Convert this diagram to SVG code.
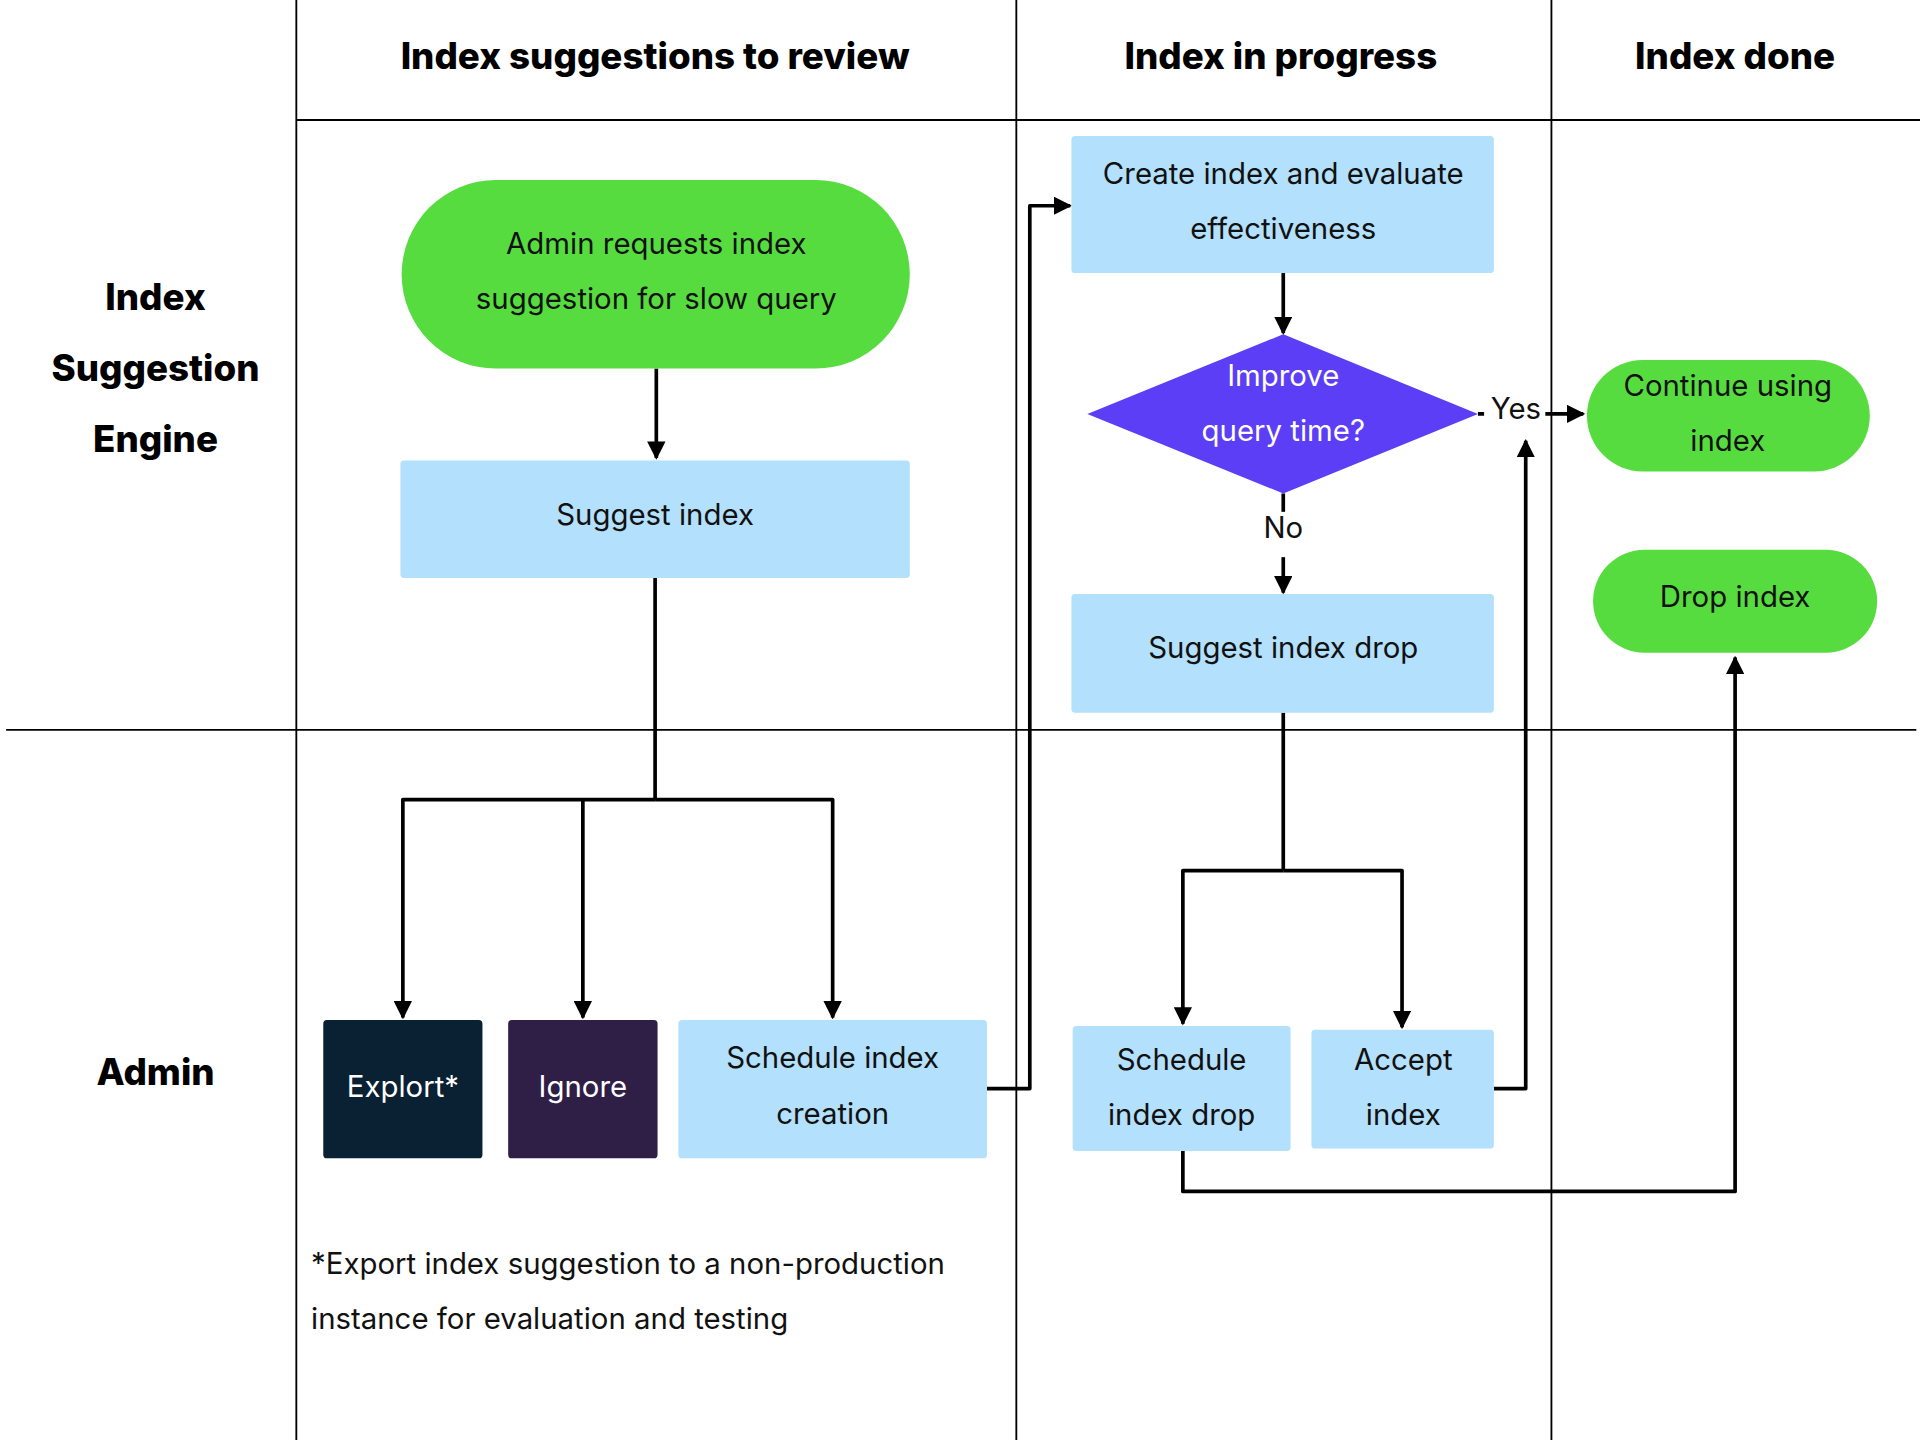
<svg xmlns="http://www.w3.org/2000/svg" width="1920" height="1440" viewBox="0 0 1920 1440">
<defs>
<marker id="ah" viewBox="0 0 10 10" refX="9" refY="5" markerWidth="5" markerHeight="5" orient="auto"><path d="M0,0L10,5L0,10z" fill="#000"/></marker>
<style>
text{font-family:Inter,"Noto Sans",sans-serif;text-anchor:middle;dominant-baseline:middle}
.h{font-size:30px;font-weight:800}
.t{font-size:24px;fill:#111}
.w{font-size:24px;fill:#fff}
.grid{stroke:#000;stroke-width:1.5;fill:none}
.c{stroke:#000;stroke-width:3;fill:none;stroke-linejoin:round}
.ca{stroke:#000;stroke-width:3;fill:none;marker-end:url(#ah);stroke-linejoin:round}
.blue{fill:#b3e0fc}
.green{fill:#57dc3f}
</style>
</defs>
<rect width="1920" height="1440" fill="#fff"/>
<g transform="scale(1.22449)">
<g id="grid" class="grid">
<line x1="242" y1="0" x2="242" y2="1176"/><line x1="830" y1="0" x2="830" y2="1176"/><line x1="1267" y1="0" x2="1267" y2="1176"/>
<line x1="242" y1="98" x2="1568" y2="98"/><line x1="5" y1="596" x2="1565" y2="596"/>
</g>
<g id="headers">
<text class="h" x="535" y="48">Index suggestions to review</text>
<text class="h" x="1046" y="48">Index in progress</text>
<text class="h" x="1417" y="48">Index done</text>
<text class="h" x="127" y="245">Index</text><text class="h" x="127" y="303">Suggestion</text><text class="h" x="127" y="361">Engine</text>
<text class="h" x="127" y="878">Admin</text>
</g>
<g id="connectors">
<path class="ca" d="M536,301V374"/>
<path class="c" d="M535,472V653"/>
<path class="ca" d="M535,653H329V831"/>
<path class="ca" d="M476,653V831"/>
<path class="ca" d="M535,653H680V831"/>
<path class="ca" d="M806,889H841V168H874"/>
<path class="ca" d="M1048,223V272"/>
<path class="ca" d="M1207,338H1293"/>
<path class="c" d="M1048,403V418"/><path class="ca" d="M1048,455V484"/>
<path class="c" d="M1048,582V711"/>
<path class="ca" d="M1048,711H966V836"/>
<path class="ca" d="M1048,711H1145V839"/>
<path class="ca" d="M1220,889H1246V360"/>
<path class="ca" d="M966,940V973H1417V537"/>
</g>
<rect x="1212" y="324" width="50" height="26" fill="#fff"/>
<text class="t" x="1238" y="336">Yes</text>
<text class="t" x="1048" y="433">No</text>
<g id="n1"><rect class="green" x="328" y="147" width="415" height="154" rx="77"/><text class="t" x="536" y="201">Admin requests index</text><text class="t" x="536" y="246">suggestion for slow query</text></g>
<g id="n2"><rect class="blue" x="327" y="376" width="416" height="96" rx="3"/><text class="t" x="535" y="422">Suggest index</text></g>
<g id="n3"><rect fill="#0a2033" x="264" y="833" width="130" height="113" rx="3"/><text class="w" x="329" y="889">Explort*</text></g>
<g id="n4"><rect fill="#2f1e46" x="415" y="833" width="122" height="113" rx="3"/><text class="w" x="476" y="889">Ignore</text></g>
<g id="n5"><rect class="blue" x="554" y="833" width="252" height="113" rx="3"/><text class="t" x="680" y="866">Schedule index</text><text class="t" x="680" y="911">creation</text></g>
<g id="n6"><rect class="blue" x="875" y="111" width="345" height="112" rx="3"/><text class="t" x="1048" y="144">Create index and evaluate</text><text class="t" x="1048" y="189">effectiveness</text></g>
<g id="n7"><polygon fill="#5b3ef5" points="1048,273 1207,338 1048,403 888,338"/><text class="w" x="1048" y="309">Improve</text><text class="w" x="1048" y="354">query time?</text></g>
<g id="n8"><rect class="blue" x="875" y="485" width="345" height="97" rx="3"/><text class="t" x="1048" y="531">Suggest index drop</text></g>
<g id="n9"><rect class="blue" x="876" y="838" width="178" height="102" rx="3"/><text class="t" x="965" y="867">Schedule</text><text class="t" x="965" y="912">index drop</text></g>
<g id="n10"><rect class="blue" x="1071" y="841" width="149" height="97" rx="3"/><text class="t" x="1146" y="867">Accept</text><text class="t" x="1146" y="912">index</text></g>
<g id="n11"><rect class="green" x="1296" y="294" width="231" height="91" rx="45.5"/><text class="t" x="1411" y="317">Continue using</text><text class="t" x="1411" y="362">index</text></g>
<g id="n12"><rect class="green" x="1301" y="449" width="232" height="84" rx="42"/><text class="t" x="1417" y="489">Drop index</text></g>
<g id="note"><text class="t" x="254" y="1034" style="text-anchor:start">*Export index suggestion to a non-production</text><text class="t" x="254" y="1079" style="text-anchor:start">instance for evaluation and testing</text></g>
</g>
</svg>
